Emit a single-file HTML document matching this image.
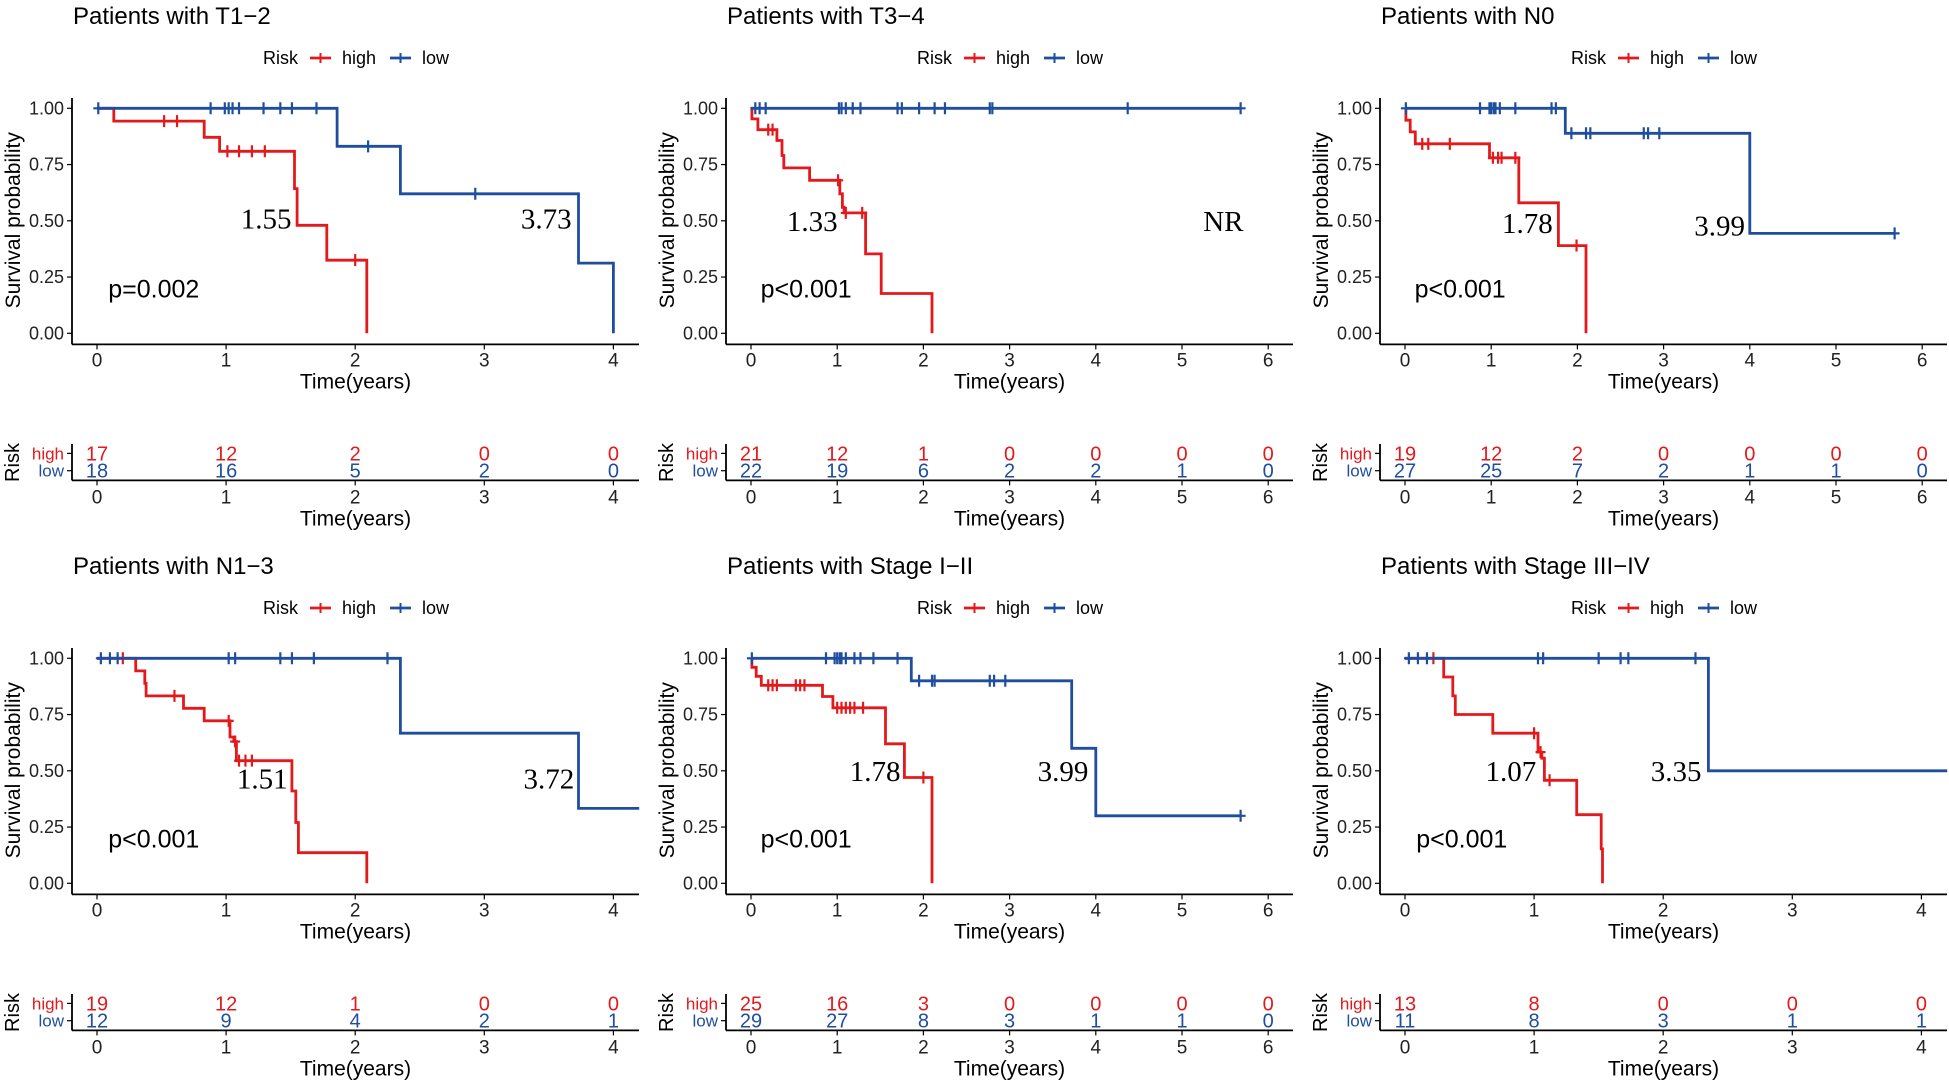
<!DOCTYPE html>
<html><head><meta charset="utf-8">
<style>
html,body{margin:0;padding:0;background:#fff;}
svg{display:block;font-family:"Liberation Sans",Arial,sans-serif;}
</style></head>
<body>
<svg id="fig" width="1949" height="1080" viewBox="0 0 1949 1080" xmlns="http://www.w3.org/2000/svg"></svg>
<script>
// ---------- data ----------
const titles = ["Patients with T1\u22122","Patients with T3\u22124","Patients with N0","Patients with N1\u22123","Patients with Stage I\u2212II","Patients with Stage III\u2212IV"];
const xMaxYears = [4,6,6,4,6,4];
const pValues = ["p=0.002","p<0.001","p<0.001","p<0.001","p<0.001","p<0.001"];
const medHighLabels = ["1.55","1.33","1.78","1.51","1.78","1.07"];
const medLowLabels = ["3.73","NR","3.99","3.72","3.99","3.35"];
const medHighPos = [[1.31,0.51],[0.71,0.50],[1.42,0.49],[1.28,0.465],[1.44,0.50],[0.82,0.50]];
const medLowPos = [[3.48,0.51],[5.48,0.50],[3.65,0.48],[3.50,0.465],[3.62,0.50],[2.10,0.50]];

const p1HighT=[0.13,0.83,0.95,1.53,1.55,1.78,2.09];
const p1HighS=[0.943,0.871,0.809,0.643,0.48,0.325,0];
const p1HighC=[0.52,0.62,1.01,1.1,1.2,1.3,2.0];
const p1LowT=[1.86,2.35,3.73,4.0];
const p1LowS=[0.831,0.62,0.312,0];
const p1LowC=[0.01,0.88,0.99,1.02,1.05,1.1,1.29,1.42,1.51,1.7,2.1,2.93];
const p1Ends=[2.09,4.0];
const p1RiskHigh=[17,12,2,0,0];
const p1RiskLow=[18,16,5,2,0];

const p2HighT=[0.01,0.08,0.3,0.36,0.38,0.68,1.03,1.06,1.08,1.33,1.51,2.1];
const p2HighS=[0.953,0.905,0.857,0.79,0.735,0.68,0.62,0.56,0.535,0.353,0.177,0];
const p2HighC=[0.2,0.25,1.01,1.1,1.29];
const p2LowT=[];
const p2LowS=[];
const p2LowC=[0.05,0.1,0.17,1.02,1.05,1.1,1.18,1.27,1.7,1.75,1.95,2.13,2.25,2.77,2.8,4.37,5.68];
const p2Ends=[2.1,5.68];
const p2RiskHigh=[21,12,1,0,0,0,0];
const p2RiskLow=[22,19,6,2,2,1,0];

const p3HighT=[0.01,0.06,0.12,0.98,1.32,1.78,2.1];
const p3HighS=[0.947,0.895,0.842,0.78,0.58,0.39,0];
const p3HighC=[0.2,0.27,0.52,1.02,1.08,1.12,1.28,1.99];
const p3LowT=[1.86,4.0];
const p3LowS=[0.889,0.444];
const p3LowC=[0.01,0.87,0.98,1.0,1.03,1.05,1.1,1.28,1.7,1.75,1.93,2.1,2.15,2.77,2.82,2.95,5.68];
const p3Ends=[2.1,5.68];
const p3RiskHigh=[19,12,2,0,0,0,0];
const p3RiskLow=[27,25,7,2,1,1,0];

const p4HighT=[0.3,0.37,0.38,0.67,0.83,1.03,1.06,1.08,1.51,1.54,1.56,2.09];
const p4HighS=[0.944,0.889,0.833,0.778,0.722,0.65,0.63,0.545,0.41,0.27,0.136,0];
const p4HighC=[0.2,0.6,1.02,1.07,1.1,1.15,1.2];
const p4LowT=[2.35,3.73];
const p4LowS=[0.667,0.333];
const p4LowC=[0.03,0.1,0.16,1.02,1.07,1.42,1.51,1.68,2.25];
const p4Ends=[2.09,4.2];
const p4RiskHigh=[19,12,1,0,0];
const p4RiskLow=[12,9,4,2,1];

const p5HighT=[0.01,0.06,0.12,0.83,0.95,1.56,1.78,2.1];
const p5HighS=[0.96,0.92,0.88,0.83,0.78,0.62,0.47,0];
const p5HighC=[0.2,0.25,0.3,0.52,0.57,0.62,1.0,1.05,1.1,1.15,1.2,1.3,2.0];
const p5LowT=[1.86,3.72,4.0];
const p5LowS=[0.9,0.6,0.3];
const p5LowC=[0.01,0.87,0.97,1.0,1.03,1.05,1.1,1.2,1.27,1.42,1.7,1.95,2.1,2.13,2.77,2.82,2.95,5.68];
const p5Ends=[2.1,5.68];
const p5RiskHigh=[25,16,3,0,0,0,0];
const p5RiskLow=[29,27,8,3,1,1,0];

const p6HighT=[0.3,0.37,0.39,0.68,1.03,1.06,1.08,1.33,1.52,1.53];
const p6HighS=[0.917,0.833,0.75,0.667,0.583,0.556,0.458,0.305,0.153,0];
const p6HighC=[0.22,1.0,1.05,1.12];
const p6LowT=[2.35];
const p6LowS=[0.5];
const p6LowC=[0.03,0.1,0.17,1.03,1.07,1.5,1.67,1.73,2.25];
const p6Ends=[1.53,4.2];
const p6RiskHigh=[13,8,0,0,0];
const p6RiskLow=[11,8,3,1,1];

const yTickValues=[0,0.25,0.5,0.75,1];
const yTickLabels=["0.00","0.25","0.50","0.75","1.00"];

const panels=[
 {h:[p1HighT,p1HighS,p1HighC],l:[p1LowT,p1LowS,p1LowC],e:p1Ends,rh:p1RiskHigh,rl:p1RiskLow},
 {h:[p2HighT,p2HighS,p2HighC],l:[p2LowT,p2LowS,p2LowC],e:p2Ends,rh:p2RiskHigh,rl:p2RiskLow},
 {h:[p3HighT,p3HighS,p3HighC],l:[p3LowT,p3LowS,p3LowC],e:p3Ends,rh:p3RiskHigh,rl:p3RiskLow},
 {h:[p4HighT,p4HighS,p4HighC],l:[p4LowT,p4LowS,p4LowC],e:p4Ends,rh:p4RiskHigh,rl:p4RiskLow},
 {h:[p5HighT,p5HighS,p5HighC],l:[p5LowT,p5LowS,p5LowC],e:p5Ends,rh:p5RiskHigh,rl:p5RiskLow},
 {h:[p6HighT,p6HighS,p6HighC],l:[p6LowT,p6LowS,p6LowC],e:p6Ends,rh:p6RiskHigh,rl:p6RiskLow}
];

// ---------- drawing ----------
const RED="#e3191c", BLUE="#1f4e9f";
const NS="http://www.w3.org/2000/svg";
const svg=document.getElementById('fig');
function mk(tag,attrs,name,parent){
  const el=document.createElementNS(NS,tag);
  for(const k in attrs) el.setAttribute(k,attrs[k]);
  
  
  (parent||svg).appendChild(el);
  return el;
}
function txt(s,attrs,name,parent){const t=mk('text',attrs,name,parent);t.textContent=s;return t;}

panels.forEach((P,i)=>{
  const c=i%3, r=Math.floor(i/3);
  const ox=654*c, oy=550*r;
  const g=mk('g',{},'panel-'+(i+1));
  const axX=72+ox, x0=97+ox;
  const ppy = xMaxYears[i]===4 ? 129.1 : 86.2;
  const xR=axX+567;
  const xS=t=>x0+t*ppy;
  const top=108.3+oy, h=225;
  const yS=s=>top+(1-s)*h;
  const axY=344.4+oy;

  txt(titles[i],{x:axX+1,y:24+oy,'font-size':24,fill:'#000'},'panel-title',g);
  // legend
  const lg=mk('g',{},'legend',g);
  const ly=58+oy, lx=263+ox;
  txt('Risk',{x:lx,y:ly+6,'font-size':18},'legend-title',lg);
  [[RED,'high',lx+47],[BLUE,'low',lx+127]].forEach(([col,lab,x])=>{
    const e=mk('g',{},'legend-entry-'+lab,lg);
    mk('line',{x1:x,y1:ly,x2:x+21,y2:ly,stroke:col,'stroke-width':2.8},'legend-line',e);
    mk('line',{x1:x+10.5,y1:ly-5,x2:x+10.5,y2:ly+5,stroke:col,'stroke-width':2},'legend-mark',e);
    txt(lab,{x:x+32,y:ly+6,'font-size':18},'legend-label',e);
  });
  // axes
  mk('line',{x1:axX,y1:98+oy,x2:axX,y2:axY,stroke:'#000','stroke-width':1.8},'y-axis',g);
  mk('line',{x1:axX,y1:axY,x2:xR,y2:axY,stroke:'#000','stroke-width':1.8},'x-axis',g);
  yTickValues.forEach((v,k)=>{
    mk('line',{x1:axX-5,y1:yS(v),x2:axX,y2:yS(v),stroke:'#000','stroke-width':1.2},'y-tick',g);
    txt(yTickLabels[k],{x:axX-8,y:yS(v)+6,'font-size':18,'text-anchor':'end',fill:'#222'},'y-tick-label',g);
  });
  for(let t=0;t<=xMaxYears[i];t++){
    mk('line',{x1:xS(t),y1:axY,x2:xS(t),y2:axY+5,stroke:'#000','stroke-width':1.2},'x-tick',g);
    txt(String(t),{x:xS(t),y:axY+22,'font-size':19,'text-anchor':'middle',fill:'#222'},'x-tick-label',g);
  }
  txt('Time(years)',{x:(axX+xR)/2,y:axY+44,'font-size':21,'text-anchor':'middle'},'x-axis-title',g);
  txt('Survival probability',{x:0,y:0,'font-size':21,'text-anchor':'middle',transform:`translate(${axX-52},${top+112}) rotate(-90)`},'y-axis-title',g);

  // curves
  [[P.h,RED,'high',P.e[0]],[P.l,BLUE,'low',P.e[1]]].forEach(([d,col,lab,end])=>{
    const T=d[0],S=d[1],C=d[2];
    let s=1, pts=[[xS(0),yS(1)]];
    T.forEach((t,k)=>{pts.push([xS(t),yS(s)]);s=S[k];pts.push([xS(t),yS(s)]);});
    const last=T.length?T[T.length-1]:0;
    if(end>last) pts.push([xS(end),yS(s)]);
    mk('path',{d:'M'+pts.map(p=>p[0].toFixed(1)+','+p[1].toFixed(1)).join('L'),fill:'none',stroke:col,'stroke-width':2.8},'curve-'+lab,g);
    const surv=t=>{let v=1;T.forEach((tt,k)=>{if(tt<=t)v=S[k];});return v;};
    C.forEach(t=>{
      const x=xS(t), y=yS(surv(t));
      mk('path',{d:`M${x-5},${y}L${x+5},${y}M${x},${y-6}L${x},${y+6}`,stroke:col,'stroke-width':2.2,fill:'none'},'censor-mark-'+lab,g);
    });
  });
  txt(medHighLabels[i],{x:xS(medHighPos[i][0]),y:yS(medHighPos[i][1])+10,'font-size':29,'text-anchor':'middle','font-family':'"Liberation Serif",serif'},'median-high-label',g);
  txt(medLowLabels[i],{x:xS(medLowPos[i][0]),y:yS(medLowPos[i][1])+10,'font-size':29,'text-anchor':'middle','font-family':'"Liberation Serif",serif'},'median-low-label',g);
  txt(pValues[i],{x:xS(xMaxYears[i]===4?0.44:0.64),y:yS(0.2)+9,'font-size':25,'text-anchor':'middle'},'p-value',g);

  // risk table
  const rt=mk('g',{},'risk-table',g);
  const rAx=480.4+oy, rH=453.4+oy, rL=470.7+oy;
  mk('line',{x1:axX,y1:444+oy,x2:axX,y2:rAx,stroke:'#000','stroke-width':1.8},'risk-y-axis',rt);
  mk('line',{x1:axX,y1:rAx,x2:xR,y2:rAx,stroke:'#000','stroke-width':1.8},'risk-x-axis',rt);
  mk('line',{x1:axX-5,y1:rH,x2:axX,y2:rH,stroke:'#000','stroke-width':1.2},'risk-tick',rt);
  mk('line',{x1:axX-5,y1:rL,x2:axX,y2:rL,stroke:'#000','stroke-width':1.2},'risk-tick',rt);
  txt('high',{x:axX-8,y:rH+6,'font-size':17,'text-anchor':'end',fill:RED},'risk-row-label-high',rt);
  txt('low',{x:axX-8,y:rL+6,'font-size':17,'text-anchor':'end',fill:BLUE},'risk-row-label-low',rt);
  txt('Risk',{x:0,y:0,'font-size':20,'text-anchor':'middle',transform:`translate(${axX-53},${462.5+oy}) rotate(-90)`},'risk-axis-title',rt);
  P.rh.forEach((n,t)=>{txt(String(n),{x:xS(t),y:rH+7,'font-size':20,'text-anchor':'middle',fill:RED},'risk-count-high',rt);});
  P.rl.forEach((n,t)=>{txt(String(n),{x:xS(t),y:rL+7,'font-size':20,'text-anchor':'middle',fill:BLUE},'risk-count-low',rt);});
  for(let t=0;t<=xMaxYears[i];t++){
    mk('line',{x1:xS(t),y1:rAx,x2:xS(t),y2:rAx+5,stroke:'#000','stroke-width':1.2},'risk-x-tick',rt);
    txt(String(t),{x:xS(t),y:rAx+23,'font-size':19,'text-anchor':'middle',fill:'#222'},'risk-x-tick-label',rt);
  }
  txt('Time(years)',{x:(axX+xR)/2,y:rAx+45,'font-size':21,'text-anchor':'middle'},'risk-x-axis-title',rt);
});
</script>
</body></html>
